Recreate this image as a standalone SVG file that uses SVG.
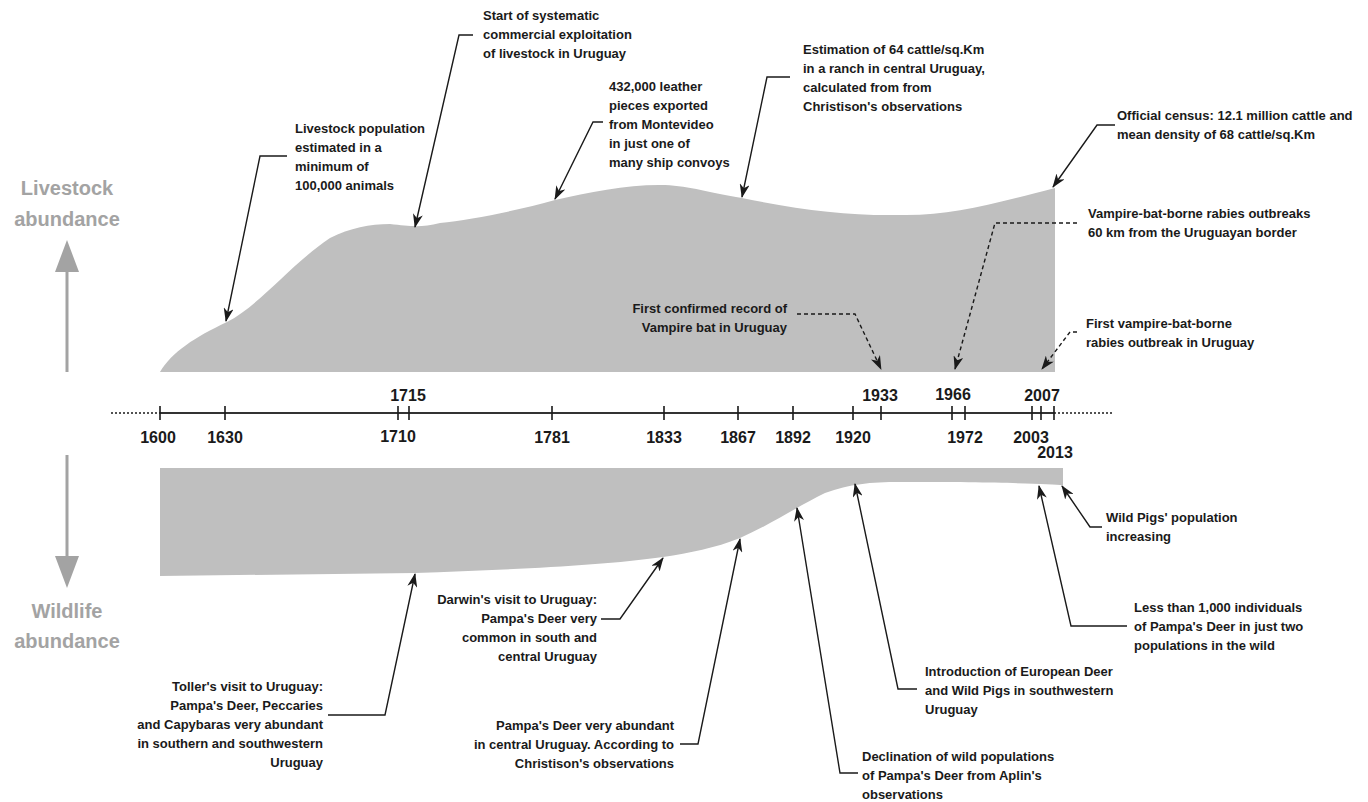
<svg xmlns="http://www.w3.org/2000/svg" width="1368" height="802" viewBox="0 0 1368 802">
<defs>
<style>
.t{font-family:"Liberation Sans",Arial,sans-serif;font-weight:bold;font-size:13px;fill:#1a1a1a}
.r{text-anchor:end}
.yr{font-family:"Liberation Sans",Arial,sans-serif;font-weight:bold;font-size:16px;fill:#1a1a1a;text-anchor:middle}
.ax{font-family:"Liberation Sans",Arial,sans-serif;font-weight:bold;font-size:20px;fill:#a3a3a3;text-anchor:middle}
.c{fill:none;stroke:#1a1a1a;stroke-width:1.4}
.d{fill:none;stroke:#1a1a1a;stroke-width:1.4;stroke-dasharray:4 3}
.tk{stroke:#1a1a1a;stroke-width:1.6}
.area{fill:#bfbfbf}
</style>
<marker id="ah" viewBox="0 0 14 10" refX="13" refY="5" markerWidth="14" markerHeight="10" orient="auto" markerUnits="userSpaceOnUse">
<path d="M0,0 L14,5 L0,10 L4,5 Z" fill="#1a1a1a"/>
</marker>
<marker id="gh" viewBox="0 0 24 32" refX="23" refY="12" markerWidth="32" markerHeight="24" orient="auto" markerUnits="userSpaceOnUse">
<path d="M0,0 L32,12 L0,24 Z" fill="#a3a3a3"/>
</marker>
</defs>

<g id="livestock-area"><path class="area" d="M160,372 C172,352 195,337 227,322 C260,305 290,265 330,238 C350,228 370,224 390,224 C410,226 420,228 440,223 C470,220 520,210 555,200 C590,192 630,184 665,185 C690,186 710,193 742,198 C800,210 850,216 900,215 C950,216 990,205 1055,188 L1055,372 Z"/></g>
<g id="wildlife-area"><path class="area" d="M160,468 L1063,468 L1063,485 C1050,484 1000,482 900,482 C870,482 850,484 825,493 C800,505 770,525 740,538 C715,548 690,553 663,557 C600,566 500,570 415,573 L160,576 Z"/></g>

<g id="axis-livestock">
<path d="M67,372 L67,272" stroke="#a3a3a3" stroke-width="3"/>
<path d="M55,272 L67,240 L79,272 Z" fill="#a3a3a3"/>
<text class="ax" x="67" y="195">Livestock</text>
<text class="ax" x="67" y="226">abundance</text>
</g>
<g id="axis-wildlife">
<path d="M67,455 L67,556" stroke="#a3a3a3" stroke-width="3"/>
<path d="M55,556 L67,588 L79,556 Z" fill="#a3a3a3"/>
<text class="ax" x="67" y="618">Wildlife</text>
<text class="ax" x="67" y="648">abundance</text>
</g>

<g id="timeline">
<path d="M111,413 L160,413" stroke="#1a1a1a" stroke-width="1.6" stroke-dasharray="2 2"/>
<path d="M160,413 L1054,413" stroke="#333" stroke-width="2"/>
<path d="M1054,413 L1113,413" stroke="#1a1a1a" stroke-width="1.6" stroke-dasharray="2 2"/>
<path class="tk" d="M160,406V420M225,406V420M398,406V420M409,406V420M552,406V420M664,406V420M738,406V420M793,406V420M853,406V420M881,406V420M952,406V420M965,406V420M1032,406V420M1041,406V420M1054,406V420"/>
<text class="yr" x="158" y="443">1600</text>
<text class="yr" x="225" y="443">1630</text>
<text class="yr" x="398" y="442">1710</text>
<text class="yr" x="408" y="401">1715</text>
<text class="yr" x="552" y="443">1781</text>
<text class="yr" x="664" y="443">1833</text>
<text class="yr" x="738" y="443">1867</text>
<text class="yr" x="793" y="443">1892</text>
<text class="yr" x="853" y="443">1920</text>
<text class="yr" x="880" y="401">1933</text>
<text class="yr" x="953" y="400">1966</text>
<text class="yr" x="965" y="443">1972</text>
<text class="yr" x="1031" y="443">2003</text>
<text class="yr" x="1042" y="401">2007</text>
<text class="yr" x="1055" y="458">2013</text>
</g>

<g id="connectors">
<polyline class="c" points="287,156 260,156 226,321" marker-end="url(#ah)"/>
<polyline class="c" points="473,35 459,35 415,227" marker-end="url(#ah)"/>
<polyline class="c" points="603,122 593,122 555,199" marker-end="url(#ah)"/>
<polyline class="c" points="790,77 767,77 742,197" marker-end="url(#ah)"/>
<polyline class="c" points="1115,125 1097,125 1053,187" marker-end="url(#ah)"/>
<polyline class="d" points="1077,223 995,223 955,369" marker-end="url(#ah)"/>
<polyline class="d" points="1077,332 1070,332 1042,369" marker-end="url(#ah)"/>
<polyline class="d" points="797,314 855,314 881,369" marker-end="url(#ah)"/>
<polyline class="c" points="328,715 385,715 415,574" marker-end="url(#ah)"/>
<polyline class="c" points="601,619 620,619 663,558" marker-end="url(#ah)"/>
<polyline class="c" points="680,744 698,744 740,539" marker-end="url(#ah)"/>
<polyline class="c" points="858,773 840,773 797,508" marker-end="url(#ah)"/>
<polyline class="c" points="917,689 898,689 855,484" marker-end="url(#ah)"/>
<polyline class="c" points="1127,626 1071,626 1039,486" marker-end="url(#ah)"/>
<polyline class="c" points="1102,527 1090,527 1062,486" marker-end="url(#ah)"/>
</g>

<g id="n-livestock-1630"><text class="t" x="295" y="133">Livestock population</text><text class="t" x="295" y="152">estimated in a</text><text class="t" x="295" y="171">minimum of</text><text class="t" x="295" y="190">100,000 animals</text></g>
<g id="n-start-1710"><text class="t" x="483" y="20">Start of systematic</text><text class="t" x="483" y="39">commercial exploitation</text><text class="t" x="483" y="58">of livestock in Uruguay</text></g>
<g id="n-leather-1781"><text class="t" x="609" y="91">432,000 leather</text><text class="t" x="609" y="110">pieces exported</text><text class="t" x="609" y="129">from Montevideo</text><text class="t" x="609" y="148">in just one of</text><text class="t" x="609" y="167">many ship convoys</text></g>
<g id="n-estimation-1867"><text class="t" x="803" y="54">Estimation of 64 cattle/sq.Km</text><text class="t" x="803" y="73">in a ranch in central Uruguay,</text><text class="t" x="803" y="92">calculated from from</text><text class="t" x="803" y="111">Christison's observations</text></g>
<g id="n-census-2013"><text class="t" x="1117" y="120">Official census: 12.1 million cattle and</text><text class="t" x="1117" y="139">mean density of 68 cattle/sq.Km</text></g>
<g id="n-rabies-1966"><text class="t" x="1088" y="218">Vampire-bat-borne rabies outbreaks</text><text class="t" x="1088" y="237">60 km from the Uruguayan border</text></g>
<g id="n-rabies-2007"><text class="t" x="1086" y="328">First vampire-bat-borne</text><text class="t" x="1086" y="347">rabies outbreak in Uruguay</text></g>
<g id="n-bat-1933"><text class="t r" x="787" y="313">First confirmed record of</text><text class="t r" x="787" y="332">Vampire bat in Uruguay</text></g>
<g id="n-toller-1710"><text class="t r" x="323" y="691">Toller's visit to Uruguay:</text><text class="t r" x="323" y="710">Pampa's Deer, Peccaries</text><text class="t r" x="323" y="729">and Capybaras very abundant</text><text class="t r" x="323" y="748">in southern and southwestern</text><text class="t r" x="323" y="767">Uruguay</text></g>
<g id="n-darwin-1833"><text class="t r" x="597" y="604">Darwin's visit to Uruguay:</text><text class="t r" x="597" y="623">Pampa's Deer very</text><text class="t r" x="597" y="642">common in south and</text><text class="t r" x="597" y="661">central Uruguay</text></g>
<g id="n-christison-1867"><text class="t r" x="674" y="730">Pampa's Deer very abundant</text><text class="t r" x="674" y="749">in central Uruguay. According to</text><text class="t r" x="674" y="768">Christison's observations</text></g>
<g id="n-aplin-1892"><text class="t" x="862" y="761">Declination of wild populations</text><text class="t" x="862" y="780">of Pampa's Deer from Aplin's</text><text class="t" x="862" y="799">observations</text></g>
<g id="n-intro-1920"><text class="t" x="925" y="676">Introduction of European Deer</text><text class="t" x="925" y="695">and Wild Pigs in southwestern</text><text class="t" x="925" y="714">Uruguay</text></g>
<g id="n-less-2003"><text class="t" x="1134" y="612">Less than 1,000 individuals</text><text class="t" x="1134" y="631">of Pampa's Deer in just two</text><text class="t" x="1134" y="650">populations in the wild</text></g>
<g id="n-pigs-2013"><text class="t" x="1106" y="522">Wild Pigs' population</text><text class="t" x="1106" y="541">increasing</text></g>
</svg>
